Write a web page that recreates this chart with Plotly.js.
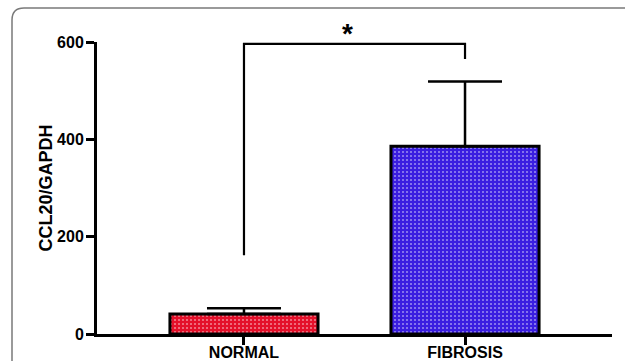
<!DOCTYPE html>
<html>
<head>
<meta charset="utf-8">
<script src="https://cdn.plot.ly/plotly-3.0.1.min.js"></script>
<style>html,body{margin:0;padding:0;background:#fff;}#chart{width:625px;height:361px;}</style>
</head>
<body>
<div id="chart"></div>
<script>
// Data
const categories = ['NORMAL', 'FIBROSIS'];
const meanValues = [41, 386];
const errorUp = [12, 133];
const errorDown = [0, 0];
const barColors = ['#e4102a', '#3a1ee0'];
const dotColors = ['#a8001c', '#b01890'];
const yTickVals = [0, 200, 400, 600];
const yTickText = ['0', '200', '400', '600'];
// significance bracket
const bracketX = ['NORMAL', 'NORMAL', 'FIBROSIS', 'FIBROSIS'];
const bracketY = [162, 596, 596, 565];
const sigLabel = '*';
const sigX = 0.47;   // roughly midway between the two categories

const FONT = 'Liberation Sans, Arial, sans-serif';

const bars = {
  type: 'bar',
  x: categories,
  y: meanValues,
  width: 0.67,
  marker: {
    color: barColors,
    line: {color: '#000', width: 3},
    pattern: {shape: '.', fillmode: 'overlay', fgcolor: dotColors, size: 4, solidity: 0.2}
  },
  error_y: {type: 'data', symmetric: false, array: errorUp, arrayminus: errorDown, color: '#000', thickness: 2.5, width: 37},
  hoverinfo: 'none',
  showlegend: false
};

const bracket = {
  type: 'scatter',
  mode: 'lines',
  x: bracketX,
  y: bracketY,
  line: {color: '#000', width: 2.2},
  cliponaxis: false,
  hoverinfo: 'none',
  showlegend: false
};

// border (rounded frame) in paper coordinates
const L = 97, R = 612, T = 42, B = 334;
const px = v => (v - L) / (R - L);
const py = v => (B - v) / (B - T);
const bx = px(12), by = py(8), rx = 12 / (R - L), ry = 12 / (B - T);
const framePath = `M ${bx},${py(380)} L ${bx},${by - ry} Q ${bx},${by} ${bx + rx},${by} L ${px(700)},${by}`;

const layout = {
  width: 625,
  height: 361,
  margin: {l: 97, r: 13, t: 42, b: 27, pad: 0},
  paper_bgcolor: '#fff',
  plot_bgcolor: '#fff',
  font: {family: FONT, color: '#000'},
  xaxis: {
    type: 'category',
    range: [-0.665, 1.665],
    showline: true, linecolor: '#000', linewidth: 3,
    ticks: 'outside', ticklen: 8, tickwidth: 3, tickcolor: '#000',
    ticklabelstandoff: -6,
    tickfont: {family: FONT, size: 16, color: '#000', weight: 'bold'},
    showgrid: false, zeroline: false, fixedrange: true
  },
  yaxis: {
    range: [0, 600],
    tickvals: yTickVals, ticktext: yTickText,
    showline: true, linecolor: '#000', linewidth: 3,
    ticks: 'outside', ticklen: 8, tickwidth: 3, tickcolor: '#000',
    ticklabelstandoff: -1,
    tickfont: {family: FONT, size: 16, color: '#000', weight: 'bold'},
    showgrid: false, zeroline: false, fixedrange: true,
    title: {text: 'CCL20/GAPDH', font: {family: FONT, size: 18, color: '#000', weight: 'bold'}, standoff: 0}
  },
  annotations: [{
    x: sigX, y: py(33), xref: 'x', yref: 'paper', text: sigLabel, showarrow: false,
    xanchor: 'center', yanchor: 'middle',
    font: {family: FONT, size: 28, color: '#000', weight: 'bold'}
  }],
  shapes: [{
    type: 'path', xref: 'paper', yref: 'paper', path: framePath,
    line: {color: '#7a7a7a', width: 1.5}, layer: 'below'
  }]
};

Plotly.newPlot('chart', [bars, bracket], layout, {staticPlot: true, displayModeBar: false});
</script>
</body>
</html>
